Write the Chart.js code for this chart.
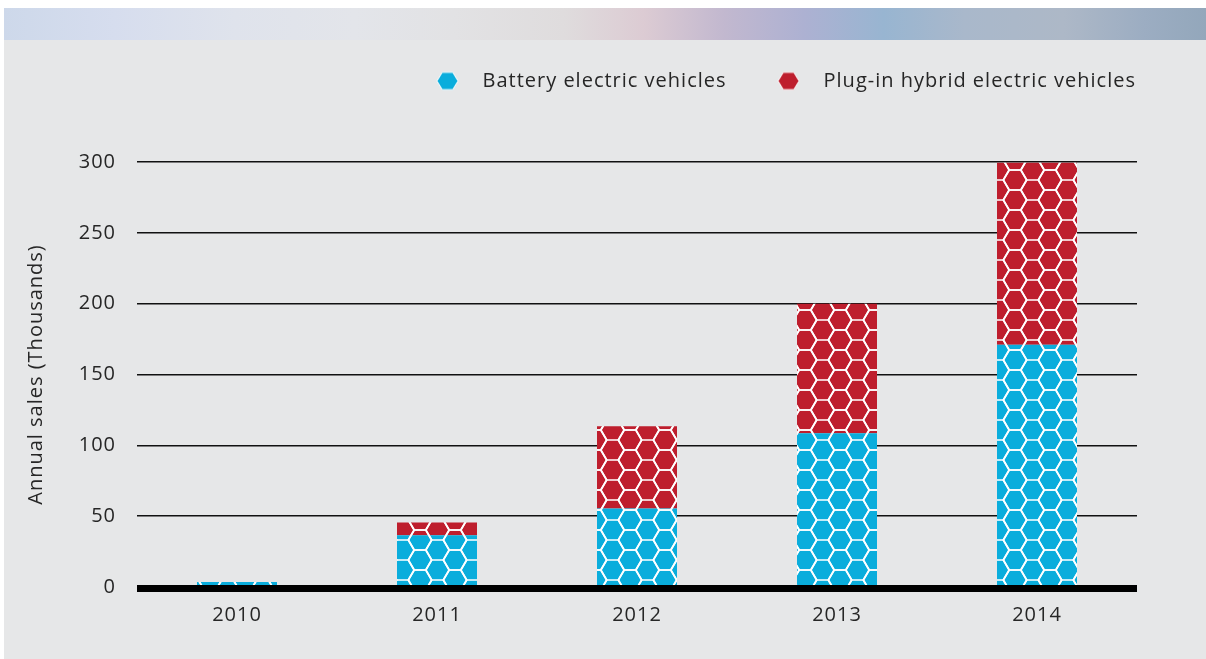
<!DOCTYPE html>
<html>
<head>
<meta charset="utf-8">
<script src="https://cdn.jsdelivr.net/npm/chart.js@4"></script>
<style>
  html, body { margin: 0; padding: 0; background: #fff; }
  body { width: 1206px; height: 659px; position: relative; overflow: hidden; }
  .banner {
    position: absolute; left: 4px; top: 8px; width: 1202px; height: 32px;
    background: linear-gradient(90deg, #cdd8ea 0px, #d6ddee 110px, #dfe3ec 230px, #e3e5ea 350px,
      #e2e2e4 450px, #dfdcdd 560px, #dccbd3 640px, #c2b8cf 720px, #adb1d2 800px, #98b5d1 880px,
      #a9b8cb 960px, #adb8c7 1060px, #9cadc2 1140px, #93a7bb 1202px);
  }
  .panel { position: absolute; left: 4px; top: 40px; width: 1202px; height: 619px; background: #e6e7e8; }
  .wrap { position: absolute; left: 0; top: 0; width: 1206px; height: 659px; }
</style>
</head>
<body>
<div class="banner"></div>
<div class="panel"></div>
<div class="wrap"><canvas id="salesChart"></canvas></div>
<script>
const years = ['2010', '2011', '2012', '2013', '2014'];
const bevSales = [3.5, 36.5, 55.5, 108.5, 171];
const phevSales = [0, 9, 58, 91.5, 128.5];
const yMax = 300;
const yStep = 50;

const BLUE = '#0aaddc';
const RED = '#be1e2d';
const TEXT = '#262626';
const FONT = "'Open Sans', 'DejaVu Sans', sans-serif";
const FONT_SIZE = 20;
const LEGEND_PAD = 37;
const LEGEND_SHIFT = 36;

// flat-top hexagon tiling, white outlines
function hexPattern(fill) {
    const r = 11.5, h = Math.sqrt(3) * r;
    const c = document.createElement('canvas');
    c.width = Math.round(3 * r);
    c.height = Math.round(h);
    const ctx = c.getContext('2d');
    ctx.scale(c.width / (3 * r), c.height / h);
    ctx.fillStyle = fill;
    ctx.fillRect(0, 0, 3 * r, h);
    ctx.strokeStyle = '#fff';
    ctx.lineWidth = 1.7;
    const centers = [[0, 0], [0, h], [3 * r, 0], [3 * r, h], [1.5 * r, h / 2]];
    centers.forEach(([cx, cy]) => {
        ctx.beginPath();
        for (let i = 0; i < 6; i++) {
            const a = Math.PI / 3 * i;
            const px = cx + r * Math.cos(a), py = cy + r * Math.sin(a);
            if (i === 0) ctx.moveTo(px, py); else ctx.lineTo(px, py);
        }
        ctx.closePath();
        ctx.stroke();
    });
    return document.createElement('canvas').getContext('2d').createPattern(c, 'repeat');
}

function hexIcon(fill) {
    const r = 10.5;
    const c = document.createElement('canvas');
    c.width = 23; c.height = 21;
    const ctx = c.getContext('2d');
    ctx.beginPath();
    for (let i = 0; i < 6; i++) {
        const a = Math.PI / 3 * i;
        const px = 11.5 + r * Math.cos(a), py = 10.5 + r * 0.95 * Math.sin(a);
        if (i === 0) ctx.moveTo(px, py); else ctx.lineTo(px, py);
    }
    ctx.closePath();
    ctx.fillStyle = fill;
    ctx.fill();
    ctx.strokeStyle = '#fff';
    ctx.lineWidth = 1;
    ctx.stroke();
    return c;
}

// the original type is wider than anything installed, so space the letters a bit
const wideText = {
    id: 'wideText',
    beforeUpdate(chart) { chart.ctx.letterSpacing = '1px'; },
    beforeDraw(chart) { chart.ctx.letterSpacing = '1px'; }
};

const zeroLine = {
    id: 'zeroLine',
    afterDatasetsDraw(chart) {
        const ctx = chart.ctx;
        const y = chart.scales.y.getPixelForValue(0);
        ctx.save();
        ctx.strokeStyle = '#000';
        ctx.lineWidth = 7;
        ctx.beginPath();
        ctx.moveTo(chart.chartArea.left, y + 1.5);
        ctx.lineTo(chart.chartArea.right, y + 1.5);
        ctx.stroke();
        ctx.restore();
    }
};

// more room under the legend, and push the legend row to the plot's right edge
const legendGap = {
    id: 'legendGap',
    beforeInit(chart) {
        const fit = chart.legend.fit;
        chart.legend.fit = function () {
            fit.bind(chart.legend)();
            this.height += 61;
        };
    },
    afterLayout(chart) {
        chart.legend.left += LEGEND_SHIFT;
        chart.legend.right += LEGEND_SHIFT;
    }
};

const bevIcon = hexIcon(BLUE);
const phevIcon = hexIcon(RED);

new Chart(document.getElementById('salesChart'), {
    type: 'bar',
    data: {
        labels: years,
        datasets: [
            { label: 'Battery electric vehicles', data: bevSales, backgroundColor: hexPattern(BLUE), pointStyle: bevIcon, borderWidth: 0 },
            { label: 'Plug-in hybrid electric vehicles', data: phevSales, backgroundColor: hexPattern(RED), pointStyle: phevIcon, borderWidth: 0 }
        ]
    },
    options: {
        responsive: true,
        maintainAspectRatio: false,
        animation: false,
        datasets: { bar: { categoryPercentage: 1, barPercentage: 0.4 } },
        layout: { padding: { left: 0, right: 69, top: 34, bottom: 0 } },
        plugins: {
            tooltip: { enabled: false },
            legend: {
                position: 'top',
                align: 'end',
                labels: {
                    usePointStyle: true,
                    pointStyleWidth: 50,
                    padding: LEGEND_PAD,
                    color: TEXT,
                    font: { family: FONT, size: FONT_SIZE, weight: 400 }
                }
            }
        },
        scales: {
            x: {
                stacked: true,
                grid: { display: false },
                border: { display: false },
                ticks: { color: TEXT, padding: 8, font: { family: FONT, size: FONT_SIZE, weight: 400 } },
                afterFit(scale) { scale.height = 72; }
            },
            y: {
                stacked: true,
                min: 0,
                max: yMax,
                ticks: { stepSize: yStep, color: TEXT, padding: 21, font: { family: FONT, size: FONT_SIZE, weight: 400 } },
                grid: {
                    color: '#111',
                    lineWidth: c => (c.tick && c.tick.value === 0 ? 0 : 1.5),
                    drawTicks: false,
                    tickLength: 0
                },
                border: { display: false },
                title: {
                    display: true,
                    text: 'Annual sales (Thousands)',
                    color: TEXT,
                    padding: { top: 24, bottom: 0 },
                    font: { family: FONT, size: FONT_SIZE, weight: 400 }
                },
                afterFit(scale) { scale.width = 137; }
            }
        }
    },
    plugins: [wideText, zeroLine, legendGap]
});
</script>
</body>
</html>
